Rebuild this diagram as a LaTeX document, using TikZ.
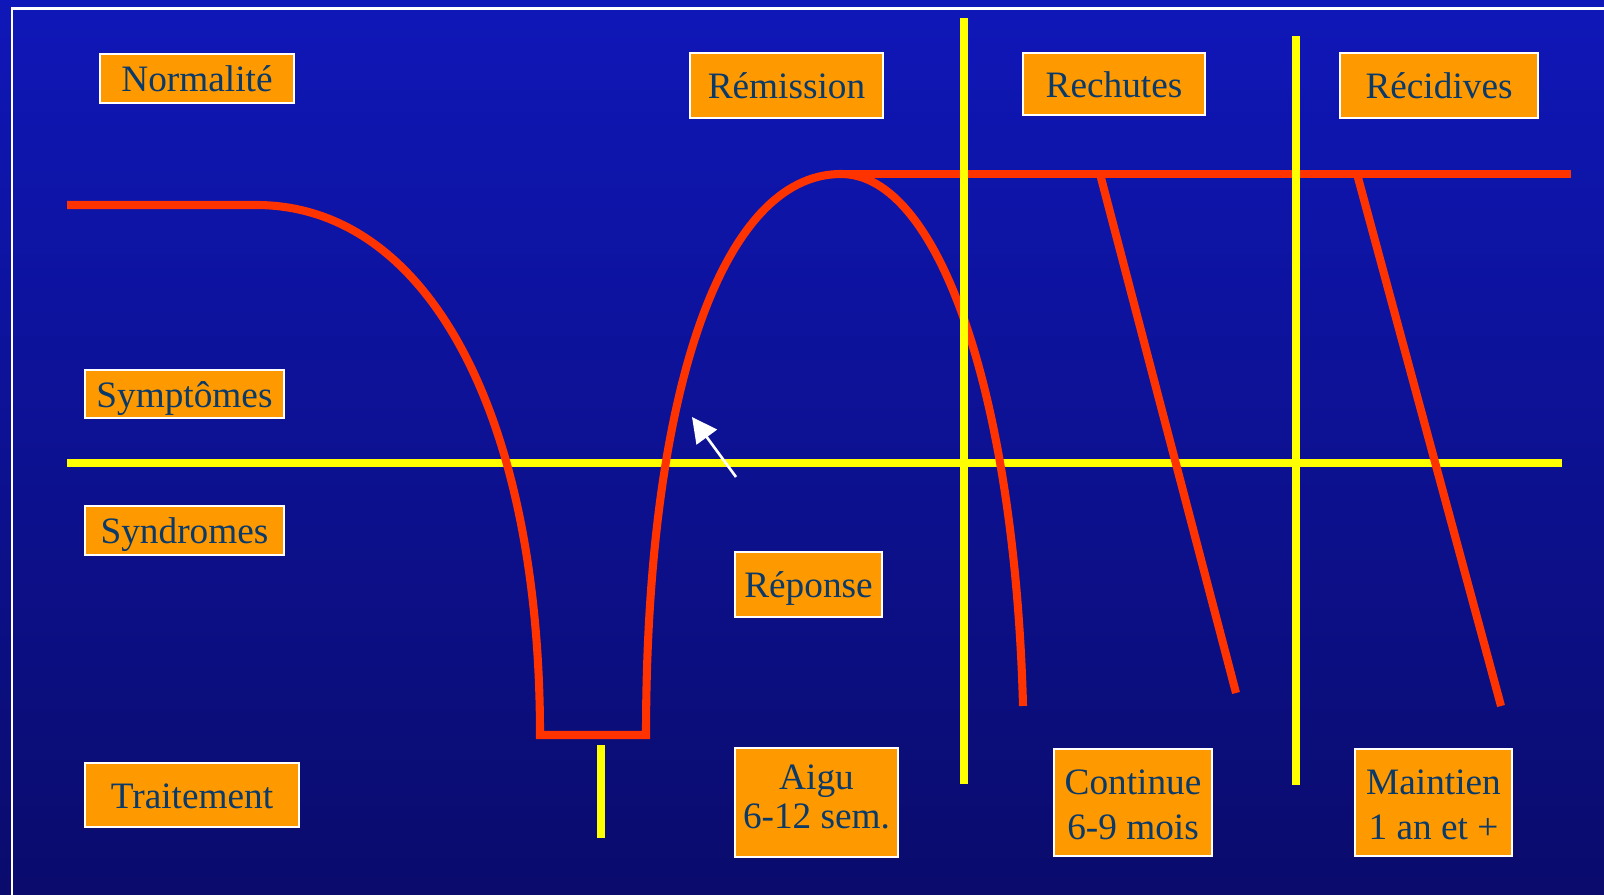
\documentclass[tikz,border=0pt]{standalone}
\usepackage{fontspec}
\setmainfont{Liberation Serif}
\usepackage{tikz}
\usetikzlibrary{arrows.meta}
\definecolor{bgtop}{HTML}{0F17B8}
\definecolor{bgmid}{HTML}{1318D2}
\definecolor{bgbot}{HTML}{0A0B6C}
\definecolor{tagfill}{HTML}{FF9900}
\definecolor{tagtext}{HTML}{0A3A6A}
\definecolor{courbe}{HTML}{FF3300}
\definecolor{repere}{HTML}{FFFF00}

\begin{document}
\begin{tikzpicture}[
  x=0.01cm,y=-0.01cm,
  font=\fontsize{10.6}{11}\selectfont,
  tag/.style={draw=white,fill=tagfill,text=tagtext,line width=0.8pt,
    inner sep=0pt,align=center,text height=0.84em,text depth=0.1em},
  tagduo/.style={tag,text height=15.6pt,text depth=1.1pt},
  tagample/.style={tagduo,font=\fontsize{10.6}{12.8}\selectfont,text height=21.9pt},
  course/.style={draw=courbe,line width=2.3pt,line join=miter},
  guide/.style={draw=repere,line width=2.3pt},
  pointer/.style={-{Triangle[length=2.5mm,width=2.5mm]},draw=white,line width=0.75pt}
]
\useasboundingbox (0,0) rectangle (1604,895);
\shade[top color=bgtop,middle color=bgmid,bottom color=bgbot] (0,0) rectangle (1604,895);
\draw[white,line width=0.85pt] (12,9) rectangle (1640,940);
\draw[guide] (67,463) -- (1562,463);
\draw[course] (67,205) -- (256,205)
  .. controls (430,205) and (540,420) .. (540,735) -- (646,735)
  .. controls (646,400) and (720,174) .. (841,174)
  .. controls (940,174) and (1015,400) .. (1023,706);
\draw[course] (841,174) -- (1571,174);
\draw[course] (1100,174) -- (1236,693);
\draw[course] (1357,174) -- (1501,706);
\draw[guide] (964,18) -- (964,784);
\draw[guide] (1296,36) -- (1296,785);
\draw[guide] (601,745) -- (601,838);
\coordinate (amorce) at (736,477);
\coordinate (pointe) at (692,417);
\draw[pointer] (amorce) -- (pointe);
\node[tag,minimum width=1.94cm,minimum height=0.49cm] (normal) at (197,78.5) {Normalité};
\node[tag,minimum width=1.93cm,minimum height=0.65cm] (remission) at (786.5,85.5) {Rémission};
\node[tag,minimum width=1.82cm,minimum height=0.62cm] (rechutes) at (1114,84) {Rechutes};
\node[tag,minimum width=1.98cm,minimum height=0.65cm] (recidives) at (1439,85.5) {Récidives};
\node[tag,minimum width=1.99cm,minimum height=0.48cm] (symptomes) at (184.5,394) {Symptômes};
\node[tag,minimum width=1.99cm,minimum height=0.49cm] (syndromes) at (184.5,530.5) {Syndromes};
\node[tag,minimum width=1.47cm,minimum height=0.65cm] (reponse) at (808.5,584.5) {Réponse};
\node[tag,minimum width=2.14cm,minimum height=0.64cm] (traitement) at (192,795) {Traitement};
\node[tagduo,minimum width=1.63cm,minimum height=1.09cm] (aigu) at (816.5,802.5) {Aigu\\6-12 sem.};
\node[tagample,minimum width=1.58cm,minimum height=1.07cm] (continue) at (1133,802.5) {Continue\\6-9 mois};
\node[tagample,minimum width=1.57cm,minimum height=1.07cm] (maintien) at (1433.5,802.5) {Maintien\\1 an et +};
\end{tikzpicture}
\end{document}
